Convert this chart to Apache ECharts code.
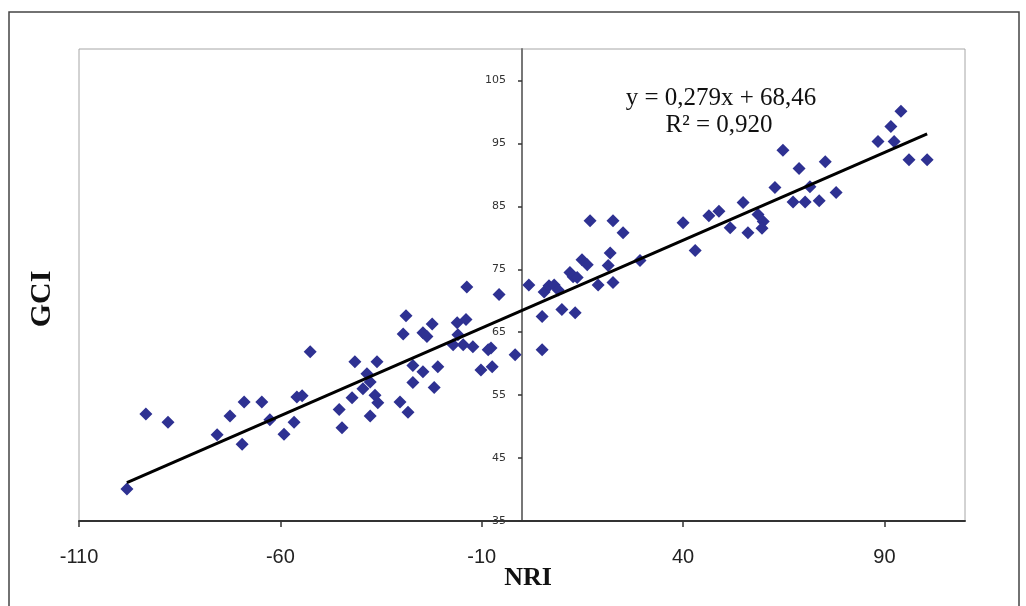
<!DOCTYPE html>
<html>
<head>
<meta charset="utf-8">
<script src="https://cdn.jsdelivr.net/npm/echarts@6/dist/echarts.min.js"></script>
<style>
  html, body { margin: 0; padding: 0; background: #fff; }
  #chart { width: 1026px; height: 606px; }
</style>
</head>
<body>
<div id="chart"></div>
<script>
// NRI (x) and GCI (y) for each country
const nri = [
  -98.1, -93.4, -87.9, -75.7, -72.5, -69.0, -69.5, -64.6, -62.6, -59.1,
  -56.6, -55.9, -54.6, -52.6, -45.4, -44.7, -42.2, -41.5, -38.5, -37.7,
  -39.5, -36.5, -35.8, -37.7, -36.0, -30.3, -28.3, -28.8, -29.5, -27.1,
  -24.6, -27.1, -21.8, -20.9, -22.3, -24.6, -23.6, -13.7, -5.7, -16.1,
  -13.9, -17.1, -14.6, -12.2, -15.9, -8.4, -7.7, -10.2, -7.4, -1.7,
  1.7, 5.0, 5.0, 5.5, 6.7, 8.0, 9.0, 9.9, 13.2, 11.9,
  12.7, 14.9, 16.2, 13.7, 18.9, 22.6, 21.9, 21.4, 25.1, 29.3,
  16.9, 22.6, 40.0, 43.0, 46.4, 48.9, 51.7, 54.9, 56.1, 58.6,
  59.9, 59.6, 62.8, 67.3, 70.3, 71.5, 73.8, 78.0, 64.8, 68.8,
  75.3, 88.4, 91.6, 94.1, 92.4, 96.1, 100.6
];
const gci = [
  40.1, 52.0, 50.7, 48.7, 51.7, 53.9, 47.2, 53.9, 51.1, 48.8,
  50.7, 54.7, 54.9, 61.9, 52.7, 49.8, 54.6, 60.3, 58.4, 57.1,
  56.0, 55.0, 53.8, 51.7, 60.3, 53.9, 52.3, 67.6, 64.7, 59.7,
  58.7, 57.0, 56.2, 59.5, 66.3, 64.9, 64.3, 72.2, 71.0, 66.5,
  67.0, 63.0, 63.0, 62.7, 64.6, 62.2, 62.5, 59.0, 59.5, 61.4,
  72.5, 67.5, 62.2, 71.4, 72.4, 72.5, 71.7, 68.6, 68.1, 74.5,
  73.8, 76.5, 75.7, 73.7, 72.5, 72.9, 77.6, 75.6, 80.8, 76.4,
  82.7, 82.7, 82.4, 78.0, 83.5, 84.2, 81.6, 85.6, 80.8, 83.7,
  82.6, 81.5, 88.0, 85.7, 85.7, 88.1, 85.9, 87.2, 93.9, 91.0,
  92.1, 95.3, 97.7, 100.1, 95.3, 92.4, 92.4
];
const xTicks = [-110, -60, -10, 40, 90];
const yTicks = [35, 45, 55, 65, 75, 85, 95, 105];

// linear trend as printed on the chart
const slope = 0.279;
const intercept = 68.46;
const eqText = 'y = 0,279x + 68,46';
const r2Text = 'R² = 0,920';

const chart = echarts.init(document.getElementById('chart'));

const xMin = Math.min(...nri);
const xMax = Math.max(...nri);
const trend = [[xMin, slope * xMin + intercept], [xMax, slope * xMax + intercept]];

const gridLeft = 79;

const option = {
  animation: false,
  backgroundColor: '#fff',
  grid: {
    left: gridLeft, right: 61, top: 49, bottom: 85,
    show: true, borderColor: '#a6a6a6', borderWidth: 1
  },
  xAxis: {
    type: 'value',
    min: -110,
    max: 110,
    interval: 10,
    splitLine: { show: false },
    axisLine: { onZero: false, lineStyle: { color: '#333', width: 2 } },
    axisTick: { customValues: xTicks, length: 6, lineStyle: { color: '#333', width: 1.5 } },
    axisLabel: {
      fontFamily: 'Liberation Sans',
      fontSize: 20,
      color: '#222',
      margin: 26,
      // only the labelled ticks of the original
      formatter: v => (xTicks.indexOf(Math.round(v)) >= 0 ? String(Math.round(v)) : '')
    }
  },
  yAxis: {
    type: 'value',
    min: 35,
    max: 110,
    position: 'left',
    offset: 0,
    splitLine: { show: false },
    axisLine: { onZero: false, lineStyle: { color: '#777', width: 2 } },
    axisTick: { customValues: yTicks, length: 4, lineStyle: { color: '#333', width: 1.5 } },
    axisLabel: {
      customValues: yTicks,
      fontFamily: 'DejaVu Sans',
      fontSize: 11,
      color: '#333',
      margin: 16
    }
  },
  series: [
    {
      type: 'scatter',
      data: nri.map((x, i) => [x, gci[i]]),
      symbol: 'diamond',
      symbolSize: 13,
      itemStyle: { color: '#2E3192', opacity: 1 }
    },
    {
      type: 'line',
      data: trend,
      showSymbol: false,
      symbol: 'none',
      z: 5,
      lineStyle: { color: '#000', width: 3 }
    }
  ],
  graphic: [
    {
      type: 'rect',
      shape: { x: 9, y: 12, width: 1010, height: 610 },
      style: { fill: 'none', stroke: '#444', lineWidth: 1.5 },
      silent: true
    },
    {
      type: 'text',
      x: 42, y: 299,
      rotation: Math.PI / 2,
      style: {
        text: 'GCI',
        font: 'bold 30px "Liberation Serif"',
        fill: '#111',
        textAlign: 'center',
        textVerticalAlign: 'middle'
      }
    },
    {
      type: 'text',
      x: 528, y: 578,
      style: {
        text: 'NRI',
        font: 'bold 26px "Liberation Serif"',
        fill: '#111',
        textAlign: 'center',
        textVerticalAlign: 'middle'
      }
    },
    {
      type: 'text',
      x: 721, y: 98,
      style: {
        text: eqText,
        font: '25px "Liberation Serif"',
        fill: '#111',
        textAlign: 'center',
        textVerticalAlign: 'middle'
      }
    },
    {
      type: 'text',
      x: 719, y: 125,
      style: {
        text: r2Text,
        font: '25px "Liberation Serif"',
        fill: '#111',
        textAlign: 'center',
        textVerticalAlign: 'middle'
      }
    }
  ]
};

chart.setOption(option);

// put the GCI axis at NRI = 0, like the original chart
const zeroPx = chart.convertToPixel({ xAxisIndex: 0 }, 0);
chart.setOption({ yAxis: { offset: -(zeroPx - gridLeft) } });
</script>
</body>
</html>
